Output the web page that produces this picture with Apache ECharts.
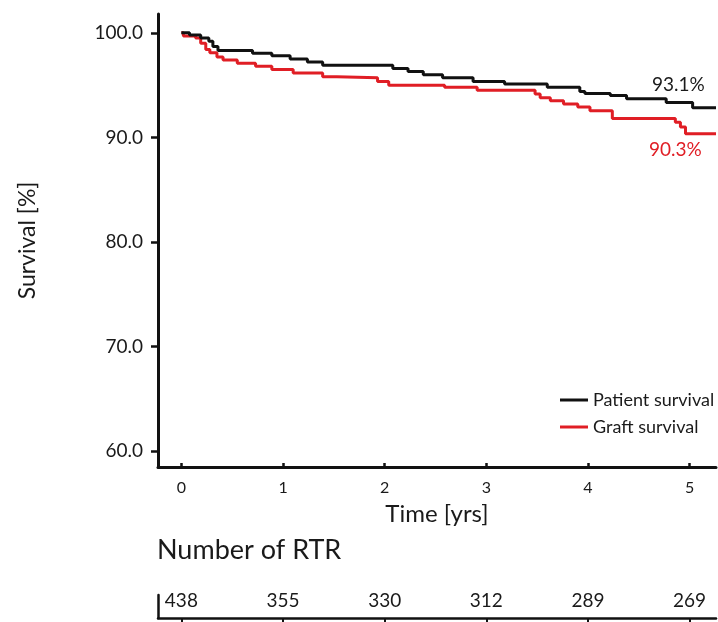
<!DOCTYPE html>
<html>
<head>
<meta charset="utf-8">
<script src="https://cdn.jsdelivr.net/npm/echarts@6/dist/echarts.min.js"></script>
<style>
  html, body { margin: 0; padding: 0; background: #fff; }
  #chart { width: 718px; height: 622px; }
</style>
</head>
<body>
<div id="chart"></div>
<script>
// Kaplan-Meier steps
var patientTime = [0, 0.08, 0.19, 0.27, 0.31, 0.36, 0.70, 0.89, 1.07, 1.24, 1.39, 2.08, 2.23, 2.38, 2.57, 2.87, 3.18, 3.60, 3.92, 3.97, 4.22, 4.38, 4.77, 5.03, 5.26];
var patientSurv = [100, 99.8, 99.5, 99.2, 98.7, 98.3, 98.05, 97.8, 97.5, 97.2, 96.9, 96.6, 96.3, 96.0, 95.7, 95.35, 95.1, 94.8, 94.4, 94.2, 94.0, 93.7, 93.35, 92.85, 92.85];
var graftTime = [0, 0.02, 0.14, 0.19, 0.24, 0.28, 0.35, 0.41, 0.55, 0.73, 0.89, 1.10, 1.39, 1.53, 1.93, 2.04, 2.59, 2.91, 3.48, 3.53, 3.63, 3.76, 3.90, 4.02, 4.24, 4.86, 4.91, 4.96, 5.26];
var graftSurv = [100, 99.7, 99.5, 99.0, 98.4, 98.1, 97.7, 97.4, 97.1, 96.8, 96.5, 96.15, 95.8, 95.7, 95.35, 95.0, 94.8, 94.5, 94.15, 93.8, 93.5, 93.2, 92.9, 92.55, 91.8, 91.45, 91.0, 90.35, 90.35];

var xTicks = [0, 1, 2, 3, 4, 5];
var yTicks = [60, 70, 80, 90, 100];
var atRisk = [438, 355, 330, 312, 289, 269];
var seriesNames = ['Patient survival', 'Graft survival'];
var endLabels = ['93.1%', '90.3%'];

function pairs(t, v) {
  return t.map(function (x, i) { return [x, v[i]]; });
}

var myChart = echarts.init(document.getElementById('chart'));
var txt = '#1a1a1a';
var red = '#e01e25';
var font = 'Lato';

myChart.setOption({
  animation: false,
  textStyle: { fontFamily: font },
  grid: [
    { left: 158, top: 14, right: 2, bottom: 155 },
    { left: 158, top: 595, right: 2, bottom: 4 }
  ],
  legend: {
    data: seriesNames,
    orient: 'vertical',
    left: 555,
    top: 386,
    icon: 'rect',
    itemWidth: 28,
    itemHeight: 3,
    itemGap: 9,
    textStyle: { fontSize: 18, color: txt, fontFamily: font }
  },
  graphic: [{
    type: 'text',
    left: 157,
    top: 537,
    style: { text: 'Number of RTR', fontSize: 27, fill: txt, fontFamily: font }
  }],
  xAxis: [{
    gridIndex: 0,
    type: 'value',
    min: -0.23,
    max: 5.26,
    name: 'Time [yrs]',
    nameLocation: 'middle',
    nameGap: 35,
    nameTextStyle: { fontSize: 24, color: txt },
    axisLine: { onZero: false, lineStyle: { color: '#111', width: 3 } },
    axisTick: { show: true, inside: true, length: 4, customValues: xTicks, lineStyle: { color: '#111', width: 2.5 } },
    axisLabel: { customValues: xTicks, fontSize: 16, color: txt, margin: 13 },
    splitLine: { show: false }
  }, {
    gridIndex: 1,
    type: 'value',
    min: -0.23,
    max: 5.26,
    axisLine: { onZero: false, lineStyle: { color: '#111', width: 2.5 } },
    axisTick: { show: true, length: 4, customValues: xTicks, lineStyle: { color: '#111', width: 2 } },
    axisLabel: {
      customValues: xTicks, inside: true, fontSize: 19, color: txt, margin: 8,
      formatter: function (v) { return atRisk[Math.round(v)]; }
    },
    splitLine: { show: false }
  }],
  yAxis: [{
    gridIndex: 0,
    type: 'value',
    min: 58.5,
    max: 101.8,
    name: 'Survival [%]',
    nameLocation: 'middle',
    nameGap: 119,
    nameTextStyle: { fontSize: 23, color: txt },
    axisLine: { show: true, onZero: false, lineStyle: { color: '#111', width: 3 } },
    axisTick: { show: true, length: 7, customValues: yTicks, lineStyle: { color: '#111', width: 2.5 } },
    axisLabel: {
      customValues: yTicks, fontSize: 19, color: txt, margin: 15,
      formatter: function (v) { return v.toFixed(1); }
    },
    splitLine: { show: false }
  }, {
    gridIndex: 1,
    type: 'value',
    min: 0,
    max: 1,
    axisLine: { show: true, onZero: false, lineStyle: { color: '#111', width: 2.5 } },
    axisTick: { show: false },
    axisLabel: { show: false },
    splitLine: { show: false }
  }],
  series: [{
    name: seriesNames[0],
    type: 'line',
    xAxisIndex: 0,
    yAxisIndex: 0,
    step: 'end',
    symbol: 'none',
    color: '#111111',
    lineStyle: { width: 3 },
    data: pairs(patientTime, patientSurv),
    markPoint: {
      symbol: 'circle',
      symbolSize: 1,
      itemStyle: { color: 'rgba(0,0,0,0)' },
      label: { show: true, position: 'inside', fontSize: 19, color: txt, formatter: endLabels[0] },
      data: [{ coord: [4.89, 95.04] }]
    },
    z: 3
  }, {
    name: seriesNames[1],
    type: 'line',
    xAxisIndex: 0,
    yAxisIndex: 0,
    step: 'end',
    symbol: 'none',
    color: red,
    lineStyle: { width: 3 },
    data: pairs(graftTime, graftSurv),
    markPoint: {
      symbol: 'circle',
      symbolSize: 1,
      itemStyle: { color: 'rgba(0,0,0,0)' },
      label: { show: true, position: 'inside', fontSize: 19, color: red, formatter: endLabels[1] },
      data: [{ coord: [4.86, 88.83] }]
    },
    z: 2
  }]
});
</script>
</body>
</html>
